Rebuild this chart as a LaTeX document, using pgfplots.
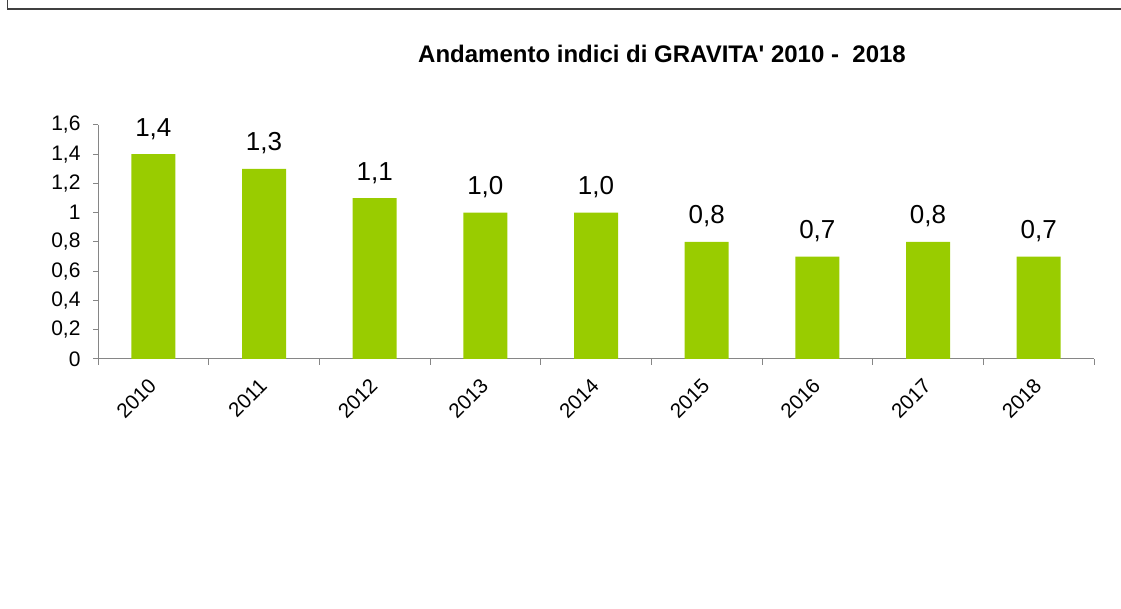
\documentclass[border=0pt]{standalone}
\usepackage{fontspec}
\setmainfont{Liberation Sans}[Ligatures=TeXOff]
\usepackage{pgfplots}
\pgfplotsset{compat=1.18}
\definecolor{barGreen}{HTML}{99CC00}
\definecolor{axGray}{HTML}{868686}
\definecolor{frameGray}{HTML}{404040}
\begin{document}
\begin{tikzpicture}[x=1pt,y=1pt]
\path[use as bounding box] (0,0) rectangle (1121,608);
% frame of the chart area (only top and left edges visible)
\draw[frameGray, line width=1.4pt] (7.5,608) -- (7.5,599) -- (1121,599);
\node[anchor=base, font=\bfseries\fontsize{24}{24}\selectfont] at (662,545)
  {Andamento indici di GRAVITA' 2010 -\ \ 2018};
\begin{axis}[
    at={(98pt,249pt)}, anchor=south west,
    scale only axis, width=996pt, height=234pt,
    xmin=-0.5, xmax=8.5, ymin=0, ymax=1.6,
    axis x line*=bottom, axis y line*=left,
    axis line style={axGray, line width=1pt},
    every tick/.style={axGray, line width=1pt},
    tick align=outside,
    xtick={0,...,8},
    xticklabels={2010,2011,2012,2013,2014,2015,2016,2017,2018},
    minor xtick={-0.5,0.5,...,8.5},
    major x tick style={draw=none},
    minor tick length=6pt,
    major tick length=5pt,
    ytick={0,0.2,...,1.6},
    yticklabel style={font=\fontsize{21}{21}\selectfont, xshift=-9pt},
    xticklabel style={font=\fontsize{20.5}{20.5}\selectfont, xshift=-6pt, yshift=-8pt, rotate=45, anchor=north east},
    /pgf/number format/.cd, use comma, fixed, precision=1, assume math mode=true,
    /pgfplots/.cd,
    ybar, bar width=44pt,
    nodes near coords={\pgfmathprintnumber[fixed, fixed zerofill, precision=1, use comma]{\pgfplotspointmeta}},
    every node near coord/.append style={font=\fontsize{26}{26}\selectfont, anchor=base, yshift=18pt},
]
\addplot[fill=barGreen, draw=none] coordinates {
  (0,1.4) (1,1.3) (2,1.1) (3,1.0) (4,1.0) (5,0.8) (6,0.7) (7,0.8) (8,0.7)};
\end{axis}
\end{tikzpicture}
\end{document}
